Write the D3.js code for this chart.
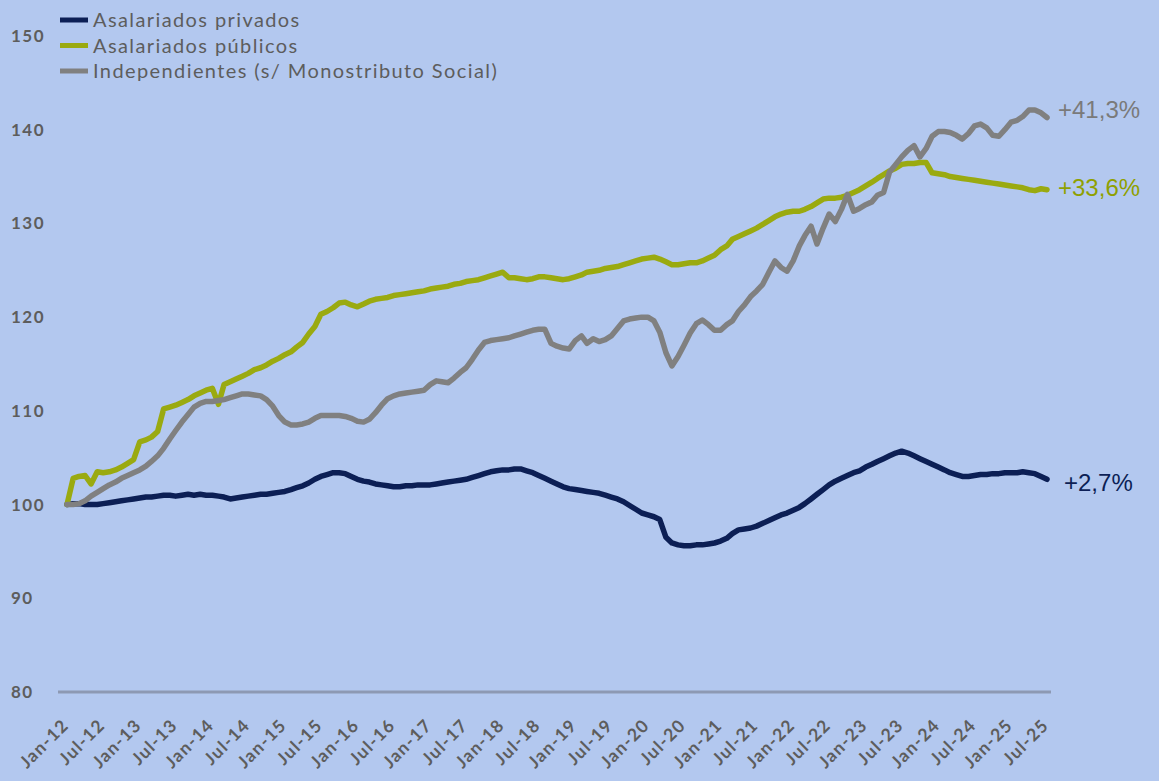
<!DOCTYPE html>
<html>
<head>
<meta charset="utf-8">
<script src="https://cdn.jsdelivr.net/npm/d3@7"></script>
<style>
  html, body { margin: 0; padding: 0; background: #b3c8ef; }
  svg { display: block; }
</style>
</head>
<body>
<svg id="chart" width="1159" height="781"></svg>
<script>
// ---- Data (monthly index, Jan-2012 = 100) ----
const startMonth = "2012-01";
const endMonth = "2025-07";

const privados = [
  100.0, 100.1, 100.1, 100.0, 100.0, 100.0, 100.1, 100.2, 100.3, 100.4, 100.5, 100.6,
  100.7, 100.8, 100.8, 100.9, 101.0, 101.0, 100.9, 101.0, 101.1, 101.0, 101.1, 101.0,
  101.0, 100.9, 100.8, 100.6, 100.7, 100.8, 100.9, 101.0, 101.1, 101.1, 101.2, 101.3,
  101.4, 101.6, 101.8, 102.0, 102.3, 102.7, 103.0, 103.2, 103.4, 103.4, 103.3, 103.0,
  102.7, 102.5, 102.4, 102.2, 102.1, 102.0, 101.9, 101.9, 102.0, 102.0, 102.1, 102.1,
  102.1, 102.2, 102.3, 102.4, 102.5, 102.6, 102.7, 102.9, 103.1, 103.3, 103.5, 103.6,
  103.7, 103.7, 103.8, 103.8, 103.6, 103.4, 103.1, 102.8, 102.5, 102.2, 101.9, 101.7,
  101.6, 101.5, 101.4, 101.3, 101.2, 101.0, 100.8, 100.6, 100.3, 99.9, 99.5, 99.1,
  98.9, 98.7, 98.4, 96.5, 95.9, 95.7, 95.6, 95.6, 95.7, 95.7, 95.8, 95.9,
  96.1, 96.4, 96.9, 97.3, 97.4, 97.5, 97.7, 98.0, 98.3, 98.6, 98.9, 99.1,
  99.4, 99.7, 100.1, 100.6, 101.1, 101.6, 102.1, 102.5, 102.8, 103.1, 103.4, 103.6,
  104.0, 104.3, 104.6, 104.9, 105.2, 105.5, 105.7, 105.5, 105.2, 104.9, 104.6, 104.3,
  104.0, 103.7, 103.4, 103.2, 103.0, 103.0, 103.1, 103.2, 103.2, 103.3, 103.3, 103.4,
  103.4, 103.4, 103.5, 103.4, 103.3, 103.0, 102.7
];

const publicos = [
  100.0, 102.8, 103.0, 103.1, 102.2, 103.5, 103.4, 103.5, 103.7, 104.0, 104.4, 104.8,
  106.7, 106.9, 107.2, 107.8, 110.2, 110.4, 110.6, 110.9, 111.2, 111.6, 111.9, 112.2,
  112.4, 110.7, 112.8, 113.1, 113.4, 113.7, 114.0, 114.4, 114.6, 114.9, 115.3, 115.6,
  116.0, 116.3, 116.8, 117.3, 118.2, 119.0, 120.3, 120.6, 121.0, 121.5, 121.6, 121.3,
  121.1, 121.4, 121.7, 121.9, 122.0, 122.1, 122.3, 122.4, 122.5, 122.6, 122.7, 122.8,
  123.0, 123.1, 123.2, 123.3, 123.5, 123.6, 123.8, 123.9, 124.0, 124.2, 124.4, 124.6,
  124.8, 124.2, 124.2, 124.1, 124.0, 124.1, 124.3, 124.3, 124.2, 124.1, 124.0, 124.1,
  124.3, 124.5, 124.8, 124.9, 125.0, 125.2, 125.3, 125.4, 125.6, 125.8, 126.0, 126.2,
  126.3, 126.4, 126.2, 125.9, 125.6, 125.6, 125.7, 125.8, 125.8, 126.0, 126.3, 126.6,
  127.2, 127.6, 128.3, 128.6, 128.9, 129.2, 129.5, 129.9, 130.3, 130.7, 131.0, 131.2,
  131.3, 131.3, 131.5, 131.8, 132.2, 132.6, 132.7, 132.7, 132.8, 133.0, 133.3, 133.6,
  134.0, 134.4, 134.8, 135.2, 135.6, 135.9, 136.3, 136.4, 136.4, 136.5, 136.5, 135.4,
  135.3, 135.2, 135.0, 134.9, 134.8, 134.7, 134.6, 134.5, 134.4, 134.3, 134.2, 134.1,
  134.0, 133.9, 133.8, 133.6, 133.5, 133.7, 133.6
];

const independientes = [
  100.0, 100.0, 100.1, 100.4, 100.9, 101.3, 101.7, 102.1, 102.4, 102.8, 103.1, 103.4,
  103.7, 104.1, 104.6, 105.2, 106.0, 107.0, 107.9, 108.8, 109.6, 110.4, 110.8, 111.0,
  111.0, 111.1, 111.2, 111.4, 111.6, 111.8, 111.8, 111.7, 111.6, 111.2, 110.5, 109.5,
  108.8, 108.5, 108.5, 108.6, 108.8, 109.2, 109.5, 109.5, 109.5, 109.5, 109.4, 109.2,
  108.9, 108.8, 109.1, 109.8, 110.6, 111.3, 111.6, 111.8, 111.9, 112.0, 112.1, 112.2,
  112.8, 113.2, 113.1, 113.0, 113.5, 114.1, 114.6, 115.5, 116.5, 117.3, 117.5, 117.6,
  117.7, 117.8, 118.0, 118.2, 118.4, 118.6, 118.7, 118.7, 117.2, 116.9, 116.7, 116.6,
  117.5, 118.0, 117.2, 117.7, 117.4, 117.6, 118.0, 118.8, 119.6, 119.8, 119.9, 120.0,
  120.0, 119.6, 118.4, 116.2, 114.8, 115.8, 117.0, 118.3, 119.3, 119.7, 119.2, 118.6,
  118.6, 119.2, 119.6, 120.6, 121.3, 122.2, 122.8, 123.5, 124.8, 126.0, 125.3, 124.9,
  126.0, 127.6, 128.7, 129.7, 127.8, 129.5, 131.0, 130.2, 131.5, 133.1, 131.3, 131.6,
  132.0, 132.3, 133.0, 133.3, 135.5, 136.3, 137.1, 137.8, 138.3, 137.1, 138.0, 139.3,
  139.8, 139.8, 139.7, 139.4, 139.0, 139.6, 140.4, 140.6, 140.2, 139.4, 139.3, 140.0,
  140.8, 141.0, 141.4, 142.1, 142.1, 141.8, 141.3
];

const seriesNames = ["Asalariados privados", "Asalariados públicos", "Independientes (s/ Monostributo Social)"];
const seriesColors = ["#0c1f55", "#9aaa10", "#808080"];
const endLabels = ["+2,7%", "+33,6%", "+41,3%"];
const endLabelColors = ["#0c1f55", "#8fa000", "#7a7a7a"];
const yTicks = [80, 90, 100, 110, 120, 130, 140, 150];

// ---- Build ----
const parse = d3.timeParse("%Y-%m");
const t0 = parse(startMonth), t1 = parse(endMonth);
const months = d3.timeMonth.range(t0, d3.timeMonth.offset(t1, 1));
const allSeries = [privados, publicos, independientes];

const svg = d3.select("#chart");
const x = d3.scaleTime().domain([t0, t1]).range([67, 1047]);
const y = d3.scaleLinear().domain([80, 150]).range([692, 36]);

const FONT = "Lato, 'Open Sans', sans-serif";

// y tick labels (no axis line)
svg.append("g").selectAll("text").data(yTicks).join("text")
  .attr("x", 11).attr("y", d => y(d)).attr("dy", "0.35em")
  .attr("font-family", FONT)
  .attr("font-weight", 700).attr("font-size", 17).attr("letter-spacing", 1.5)
  .attr("fill", "#5d5d5d")
  .text(d => d);

// x axis
const xTickDates = months.filter(m => m.getMonth() === 0 || m.getMonth() === 6);
const xAxis = d3.axisBottom(x).tickValues(xTickDates)
  .tickFormat(d3.timeFormat("%b-%y")).tickSize(0).tickPadding(0);
const gx = svg.append("g").attr("transform", "translate(0,692)").call(xAxis);
gx.select(".domain").remove();
gx.append("line").attr("x1", 58).attr("x2", 1051).attr("y1", 0).attr("y2", 0)
  .attr("stroke", "#8d99b3").attr("stroke-width", 3);
gx.selectAll(".tick text")
  .attr("font-family", FONT)
  .attr("font-weight", 700).attr("font-size", 17.5).attr("letter-spacing", 1.3)
  .attr("fill", "#5d5d5d")
  .attr("text-anchor", "end")
  .attr("transform", "translate(-2,30) rotate(-45)")
  .attr("dy", "0.35em").attr("y", 0).attr("x", 0);

// lines
const line = d3.line().x((d, i) => x(months[i])).y(d => y(d)).curve(d3.curveLinear);
const order = [0, 1, 2];
svg.append("g").selectAll("path").data(order).join("path")
  .attr("d", k => line(allSeries[k]))
  .attr("fill", "none").attr("stroke", k => seriesColors[k])
  .attr("stroke-width", 5.5).attr("stroke-linejoin", "round").attr("stroke-linecap", "round");

// end labels
const endLabelY = [483, 188, 110];
svg.append("g").selectAll("text").data(order).join("text")
  .attr("x", k => k === 0 ? 1064 : 1058)
  .attr("y", k => endLabelY[k])
  .attr("dy", "0.35em")
  .attr("font-family", "'Liberation Sans', Arial, sans-serif")
  .attr("font-size", 24).attr("fill", k => endLabelColors[k])
  .text(k => endLabels[k]);

// legend
const lg = svg.append("g");
seriesNames.forEach((name, i) => {
  const yy = 20 + i * 25.5;
  lg.append("line").attr("x1", 60).attr("x2", 88).attr("y1", yy).attr("y2", yy)
    .attr("stroke", seriesColors[i]).attr("stroke-width", 5);
  lg.append("text").attr("x", 93).attr("y", yy).attr("dy", "0.35em")
    .attr("font-family", FONT)
    .attr("font-size", 20).attr("letter-spacing", 1.4)
    .attr("fill", "#5d5d5d").text(name);
});
</script>
</body>
</html>
